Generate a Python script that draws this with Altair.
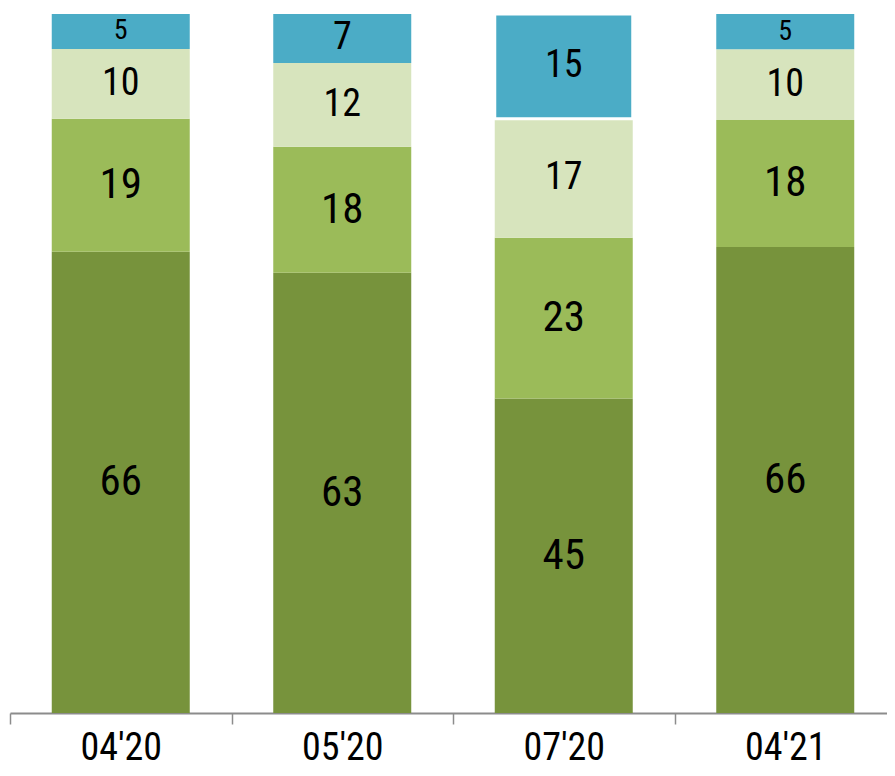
import altair as alt
import pandas as pd

periods = ["04'20", "05'20", "07'20", "04'21"]
series = ["s1", "s2", "s3", "s4"]  # bottom to top
s1 = [66, 63, 45, 66]
s2 = [19, 18, 23, 18]
s3 = [10, 12, 17, 10]
s4 = [5, 7, 15, 5]
colors = ["#77933C", "#9BBB59", "#D7E4BD", "#4BACC6"]

rows = []
for i, p in enumerate(periods):
    for k, (name, vals) in enumerate(zip(series, [s1, s2, s3, s4])):
        rows.append({"period": p, "series": name, "order": k, "value": vals[i]})
df = pd.DataFrame(rows)

FONT = "Roboto Condensed"

base = alt.Chart(df).transform_stack(
    stack="value", groupby=["period"], as_=["y0", "y1"],
    offset="normalize", sort=[alt.SortField("order", order="ascending")]
).transform_calculate(
    mid="(datum.y0 + datum.y1) / 2",
    fs="datum.value < 6 ? 28 : (datum.order < 2 ? 43 : 38)"
)

xscale = alt.Scale(paddingInner=0, paddingOuter=0, range=[0, 886])

x = alt.X("period:N", sort=periods, title=None, scale=xscale,
          axis=alt.Axis(labelAngle=0, labelFont=FONT, labelFontSize=38,
                        labelColor="#000000", labelBaseline="alphabetic",
                        domainColor="#8c8c8c", domainWidth=2,
                        tickColor="#8c8c8c", tickWidth=1.5, tickSize=11,
                        tickBand="extent", labelPadding=35))

bars = base.mark_bar(width=alt.RelativeBandSize(0.623), stroke="#ffffff").encode(
    x=x,
    y=alt.Y("y0:Q", scale=alt.Scale(domain=[0, 1]), axis=None),
    y2="y1:Q",
    color=alt.Color("series:N", scale=alt.Scale(domain=series, range=colors), legend=None),
    strokeWidth=alt.condition(
        "datum.period == \"07'20\" && datum.series == 's4'", alt.value(3), alt.value(0)),
)

labels = base.mark_text(font=FONT, baseline="middle", align="center", color="#000000").encode(
    x=alt.X("period:N", sort=periods, scale=xscale),
    y=alt.Y("mid:Q", scale=alt.Scale(domain=[0, 1])),
    text="value:Q",
    size=alt.Size("fs:Q", scale=None, legend=None),
)

chart = (bars + labels).properties(
    width=877, height=699,
    padding={"left": 2, "top": 6, "right": 0, "bottom": 55},
    autosize=alt.AutoSizeParams(type="none"),
    background="#ffffff",
).configure_view(stroke=None)

chart.save("out.html", embed_options={"renderer": "svg", "actions": False})
